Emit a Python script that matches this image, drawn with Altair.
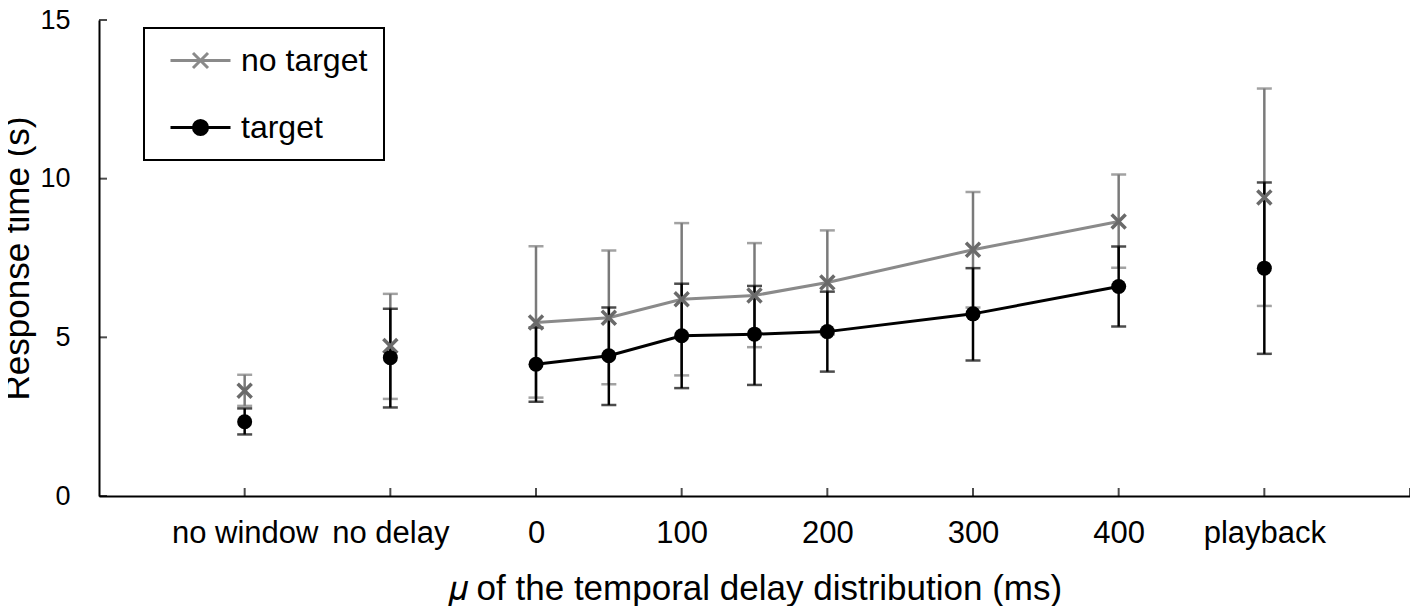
import altair as alt
import pandas as pd

# ---------------- data ----------------
conditions = ["no window", "no delay", "0", "50", "100", "150", "200", "300", "400", "playback"]
x_position = [0, 1, 2, 2.5, 3, 3.5, 4, 5, 6, 7]
connected = [False, False, True, True, True, True, True, True, True, False]

no_target_mean = [3.32, 4.73, 5.47, 5.62, 6.20, 6.32, 6.73, 7.76, 8.65, 9.41]
no_target_upper = [3.82, 6.37, 7.87, 7.74, 8.60, 7.97, 8.37, 9.58, 10.13, 12.84]
no_target_lower = [2.84, 3.06, 3.10, 3.52, 3.80, 4.69, 5.09, 5.94, 7.19, 5.99]

target_mean = [2.34, 4.36, 4.15, 4.42, 5.05, 5.10, 5.18, 5.74, 6.60, 7.18]
target_upper = [2.76, 5.90, 5.31, 5.94, 6.69, 6.62, 6.44, 7.18, 7.86, 9.88]
target_lower = [1.94, 2.79, 2.97, 2.87, 3.40, 3.50, 3.92, 4.27, 5.34, 4.48]

series_names = ["no target", "target"]

x_tick_values = [0, 1, 2, 3, 4, 5, 6, 7]
x_tick_labels = ["no window", "no delay", "0", "100", "200", "300", "400", "playback"]
x_inward_ticks = [0, 1, 2, 3, 4, 5, 6, 7, 8]
y_tick_values = [0, 5, 10, 15]
X_DOMAIN = [-1, 8]
Y_DOMAIN = [0, 15]

X_TITLE = "\U0001D707 of the temporal delay distribution (ms)"
Y_TITLE = "Response time (s)"

# ---------------- styling ----------------
FONT = "Liberation Sans"
GRAY_LINE = "#8a8a8a"
GRAY_BAR = "#7a7a7a"
GRAY_MARK = "#6a6a6a"
BLACK = "#000000"
X_PATH = "M-1,-1L1,1M1,-1L-1,1"
LEG_X_PATH = "M-2,0L2,0M-0.5,-0.5L0.5,0.5M0.5,-0.5L-0.5,0.5"
LEG_DOT_PATH = "M-2,0L2,0M-0.47,0A0.47,0.47,0,1,1,0.47,0A0.47,0.47,0,1,1,-0.47,0Z"

# ---------------- tables ----------------
rows = []
for name, m, lo, hi in [
    ("no target", no_target_mean, no_target_lower, no_target_upper),
    ("target", target_mean, target_lower, target_upper),
]:
    for i in range(len(conditions)):
        rows.append({
            "series": name,
            "condition": conditions[i],
            "x": x_position[i],
            "connected": connected[i],
            "mean": m[i],
            "lo": lo[i],
            "hi": hi[i],
        })
df = pd.DataFrame(rows)

xt_df = pd.DataFrame({"x": x_inward_ticks, "y": [Y_DOMAIN[0]] * len(x_inward_ticks)})
yt_df = pd.DataFrame({"y": y_tick_values, "x": [X_DOMAIN[0]] * len(y_tick_values)})

label_expr = "[" + ",".join("'" + s + "'" for s in x_tick_labels) + "][datum.value]"

x_axis = alt.Axis(
    values=x_tick_values, labelExpr=label_expr, ticks=False, tickSize=0, grid=False,
    domainColor=BLACK, domainWidth=2, labelFont=FONT, labelFontSize=31, labelColor=BLACK,
    labelPadding=22, labelOverlap=False, labelFlush=False,
    title=X_TITLE, titleFont=FONT, titleFontSize=35,
    titleFontWeight="normal", titleColor=BLACK, titlePadding=23,
)
y_axis = alt.Axis(
    values=y_tick_values, ticks=False, tickSize=0, grid=False,
    domainColor=BLACK, domainWidth=2, labelFont=FONT, labelFontSize=27, labelColor=BLACK,
    labelPadding=29, title=Y_TITLE, titleFont=FONT, titleFontSize=35,
    titleFontWeight="normal", titleColor=BLACK, titlePadding=4,
)
x_scale = alt.Scale(domain=X_DOMAIN, nice=False, zero=False)
y_scale = alt.Scale(domain=Y_DOMAIN, nice=False, zero=True)


def X(field):
    return alt.X(field, type="quantitative", scale=x_scale, axis=x_axis, title=X_TITLE)


def Y(field):
    return alt.Y(field, type="quantitative", scale=y_scale, axis=y_axis, title=Y_TITLE)


base = alt.Chart(df)
gray = base.transform_filter(alt.datum.series == "no target")
black = base.transform_filter(alt.datum.series == "target")

layers = []
# inward axis ticks
layers.append(alt.Chart(yt_df).mark_tick(orient="horizontal", size=8, thickness=2, color=BLACK, xOffset=4)
              .encode(x=X("x"), y=Y("y")))
layers.append(alt.Chart(xt_df).mark_tick(orient="vertical", size=8, thickness=2, color=BLACK, yOffset=-4)
              .encode(x=X("x"), y=Y("y")))

for sub, col in [(gray, GRAY_BAR), (black, BLACK)]:
    layers.append(sub.mark_rule(color=col, strokeWidth=2.5).encode(x=X("x"), y=Y("lo"), y2="hi"))
    layers.append(sub.mark_tick(orient="horizontal", size=15, thickness=2.5, color=col).encode(x=X("x"), y=Y("hi")))
    layers.append(sub.mark_tick(orient="horizontal", size=15, thickness=2.5, color=col).encode(x=X("x"), y=Y("lo")))

layers.append(gray.transform_filter(alt.datum.connected).mark_line(color=GRAY_LINE, strokeWidth=3)
              .encode(x=X("x"), y=Y("mean")))
layers.append(black.transform_filter(alt.datum.connected).mark_line(color=BLACK, strokeWidth=3)
              .encode(x=X("x"), y=Y("mean")))
layers.append(gray.mark_point(shape=X_PATH, size=196, strokeWidth=3.5, color=GRAY_MARK, filled=False, opacity=1)
              .encode(x=X("x"), y=Y("mean")))
layers.append(black.mark_point(shape="circle", size=225, color=BLACK, filled=True, opacity=1)
              .encode(x=X("x"), y=Y("mean")))

# legend layer (invisible marks, drives the legend only)
leg = alt.Legend(
    orient="none", legendX=45, legendY=8, title=None,
    labelFont=FONT, labelFontSize=32, labelColor=BLACK,
    symbolSize=900, symbolStrokeWidth=3, symbolOpacity=1,
    symbolOffset=24, labelOffset=24, rowPadding=34, padding=16,
    strokeColor=BLACK,
)
layers.append(base.mark_point(opacity=0, filled=False).encode(
    x=X("x"), y=Y("mean"),
    shape=alt.Shape("series:N", scale=alt.Scale(domain=series_names, range=[LEG_X_PATH, LEG_DOT_PATH]), legend=leg),
    color=alt.Color("series:N", scale=alt.Scale(domain=series_names, range=[GRAY_LINE, BLACK]), legend=leg),
    fill=alt.Fill("series:N", scale=alt.Scale(domain=series_names, range=[GRAY_MARK, BLACK]), legend=leg),
))

chart = alt.layer(*layers).properties(
    width=1311, height=476,
    padding={"left": 91, "top": 12, "right": 0, "bottom": 110},
    autosize=alt.AutoSizeParams(type="none"),
    background="white",
).configure_view(stroke=None).configure_legend(strokeWidth=2)

chart.save("out.html", embed_options={"renderer": "svg", "actions": False})
